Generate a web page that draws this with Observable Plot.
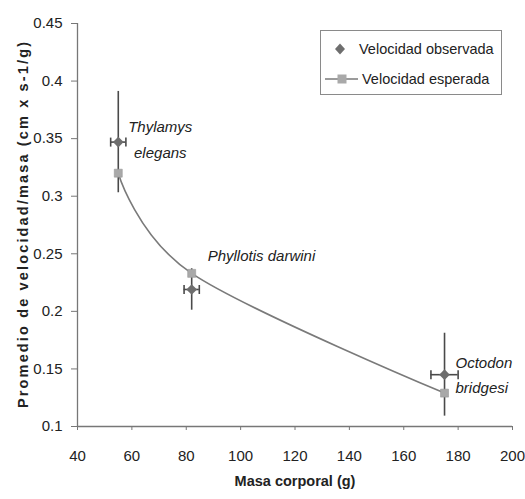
<!DOCTYPE html>
<html>
<head>
<meta charset="utf-8">
<script src="https://cdn.jsdelivr.net/npm/d3@7"></script>
<script src="https://cdn.jsdelivr.net/npm/@observablehq/plot@0.6"></script>
<style>
  html, body { margin: 0; padding: 0; background: #fff; }
  #wrap { position: relative; width: 525px; height: 499px; }
  #legend {
    position: absolute; left: 320px; top: 30px; width: 182px; height: 65px;
    border: 1px solid #8a8a8a; background: #fff; box-sizing: border-box;
    font-family: "Liberation Sans", Arial, sans-serif;
    font-size: 14.5px; color: #222;
  }
  .row { position: absolute; left: 0; height: 24px; display: flex; align-items: center; white-space: nowrap; }
  .row svg { display: block; }
</style>
</head>
<body>
<div id="wrap"></div>
<script>
// ---- data ----
const species = ["Thylamys elegans", "Phyllotis darwini", "Octodon bridgesi"];
const mass = [55, 82, 175];            // g
const massErr = [2.8, 2.8, 5];          // g (horizontal error)
const observed = [0.347, 0.219, 0.145]; // velocidad observada
const observedErr = [0.044, 0.018, 0.036];
const expected = [0.32, 0.233, 0.129];  // velocidad esperada
const labelText = ["Thylamys\nelegans", "Phyllotis darwini", "Octodon\nbridgesi"];
const xTicks = [40, 60, 80, 100, 120, 140, 160, 180, 200];
const yTicks = [0.1, 0.15, 0.2, 0.25, 0.3, 0.35, 0.4, 0.45];
const yTickLabels = ["0.1", "0.15", "0.2", "0.25", "0.3", "0.35", "0.4", "0.45"];
const seriesNames = ["Velocidad observada", "Velocidad esperada"];
const xLabel = "Masa corporal (g)";
const yLabel = "Promedio de velocidad/masa (cm x s-1/g)";

const FONT = '"Liberation Sans", Arial, sans-serif';

const obs = species.map((s, i) => ({s, m: mass[i], me: massErr[i], v: observed[i], ve: observedErr[i], t: labelText[i]}));
const exp = species.map((s, i) => ({s, m: mass[i], v: expected[i]}));

const capSymbol = {
  draw(ctx, size) {
    const h = Math.sqrt(size / Math.PI);
    ctx.moveTo(0, -h); ctx.lineTo(0, h);
  }
};

const ERR = "#4a4a4a";
const chart = Plot.plot({
  width: 525, height: 499,
  marginLeft: 77, marginRight: 13, marginTop: 23, marginBottom: 73,
  style: {fontFamily: FONT, fontSize: "15px", color: "#222", background: "#fff"},
  x: {domain: [40, 200], ticks: xTicks, label: null},
  y: {domain: [0.1, 0.45], ticks: yTicks, label: null},
  marks: [
    Plot.axisX({ticks: xTicks, tickSize: 4, tickPadding: 20, stroke: "#777", label: null, fontSize: 15}),
    Plot.axisY({ticks: yTicks, tickSize: 6, tickPadding: 9, stroke: "#777",
      tickFormat: d => yTickLabels[yTicks.indexOf(d)], label: null, fontSize: 15}),
    Plot.ruleX([40], {stroke: "#777", strokeWidth: 1.3}),
    Plot.ruleY([0.1], {stroke: "#777", strokeWidth: 1.3}),
    // expected smoothed line
    Plot.line(exp, {x: "m", y: "v", curve: "cardinal", stroke: "#7a7a7a", strokeWidth: 1.6}),
    // vertical error bars
    Plot.ruleX(obs, {x: "m", y1: d => d.v - d.ve, y2: d => d.v + d.ve, stroke: ERR, strokeWidth: 1.6}),
    // horizontal error bars
    Plot.ruleY(obs, {y: "v", x1: d => d.m - d.me, x2: d => d.m + d.me, stroke: ERR, strokeWidth: 1.6}),
    Plot.dot(obs, {x: d => d.m - d.me, y: "v", symbol: capSymbol, r: 4.5, stroke: ERR, strokeWidth: 1.6, fill: "none"}),
    Plot.dot(obs, {x: d => d.m + d.me, y: "v", symbol: capSymbol, r: 4.5, stroke: ERR, strokeWidth: 1.6, fill: "none"}),
    // markers
    Plot.dot(exp, {x: "m", y: "v", symbol: "square", r: 4.5, fill: "#a9a9a9", stroke: "#999", strokeWidth: 0.6}),
    Plot.dot(obs, {x: "m", y: "v", symbol: "diamond2", r: 4.8, fill: "#6e6e6e", stroke: "none"}),
    // species labels
    Plot.text(obs.filter((d, i) => i === 0), {x: "m", y: "v", text: "t", fontStyle: "italic", textAnchor: "middle",
      lineAnchor: "middle", lineHeight: 1.73, dx: 42, dy: -5, fill: "#222"}),
    Plot.text(obs.filter((d, i) => i === 1), {x: "m", y: "v", text: "t", fontStyle: "italic", textAnchor: "start",
      lineAnchor: "middle", dx: 16, dy: -33, fill: "#222"}),
    Plot.text(obs.filter((d, i) => i === 2), {x: "m", y: "v", text: "t", fontStyle: "italic", textAnchor: "start",
      lineAnchor: "middle", lineHeight: 1.67, dx: 11, dy: -2, fill: "#222"}),
    // axis titles
    Plot.text([xLabel], {frameAnchor: "bottom", textAnchor: "middle", lineAnchor: "middle", dy: 55,
      fontWeight: "bold", fontSize: 14.5, fill: "#222"}),
    Plot.text([yLabel], {frameAnchor: "left", textAnchor: "middle", lineAnchor: "middle", rotate: -90, dx: -54,
      fontWeight: "bold", fontSize: 14.5, fill: "#222"})
  ]
});

const wrap = document.getElementById("wrap");
wrap.appendChild(chart);
// stretch the y title like the original (wide letter spacing)
d3.select(chart).selectAll("text").filter(function() { return this.textContent === yLabel; })
  .attr("textLength", 366).attr("lengthAdjust", "spacing");

// legend
const legend = document.createElement("div");
legend.id = "legend";
const sw = (kind) => {
  const s = d3.create("svg").attr("width", kind === 1 ? 41 : 38).attr("height", 20);
  if (kind === 1) {
    s.append("line").attr("x1", 4).attr("x2", 37).attr("y1", 10).attr("y2", 10).attr("stroke", "#7a7a7a").attr("stroke-width", 1.6);
    s.append("rect").attr("x", 16.5).attr("y", 5.5).attr("width", 9).attr("height", 9).attr("fill", "#a9a9a9");
  } else {
    s.append("path").attr("d", "M19,4.5L24,10L19,15.5L14,10Z").attr("fill", "#6e6e6e");
  }
  return s.node();
};
seriesNames.forEach((name, k) => {
  const row = document.createElement("div");
  row.className = "row";
  row.style.top = (k === 0 ? 6 : 36) + "px";
  row.appendChild(sw(k));
  const span = document.createElement("span");
  span.textContent = name;
  row.appendChild(span);
  legend.appendChild(row);
});
wrap.appendChild(legend);
</script>
</body>
</html>
